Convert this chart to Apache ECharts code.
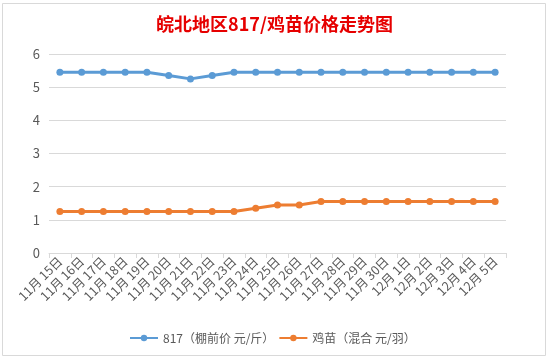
<!DOCTYPE html>
<html>
<head>
<meta charset="utf-8">
<script src="https://cdn.jsdelivr.net/npm/echarts@6/dist/echarts.min.js"></script>
<style>
html,body{margin:0;padding:0;background:#fff;}
#c{width:549px;height:358px;}
</style>
</head>
<body>
<div id="c"></div>
<script>
var titleText = '皖北地区817/鸡苗价格走势图';
var categories = ['11月 15日','11月 16日','11月 17日','11月 18日','11月 19日','11月 20日','11月 21日','11月 22日','11月 23日','11月 24日','11月 25日','11月 26日','11月 27日','11月 28日','11月 29日','11月 30日','12月 1日','12月 2日','12月 3日','12月 4日','12月 5日'];
var seriesNames = ['817（棚前价 元/斤）','鸡苗（混合 元/羽）'];
var price817 = [5.45,5.45,5.45,5.45,5.45,5.35,5.25,5.35,5.45,5.45,5.45,5.45,5.45,5.45,5.45,5.45,5.45,5.45,5.45,5.45,5.45];
var priceChick = [1.25,1.25,1.25,1.25,1.25,1.25,1.25,1.25,1.25,1.35,1.45,1.45,1.55,1.55,1.55,1.55,1.55,1.55,1.55,1.55,1.55];
var yMin = 0, yMax = 6, yStep = 1;

var font = '"Noto Sans CJK SC", "Microsoft YaHei", sans-serif';
var chart = echarts.init(document.getElementById('c'));
chart.setOption({
  animation: false,
  backgroundColor: '#fff',
  title: {
    text: titleText, left: 'center', top: 10,
    textStyle: {color: '#e60000', fontSize: 18, fontWeight: 'bold', fontFamily: font}
  },
  graphic: [{
    type: 'rect', shape: {x: 2.5, y: 3.5, width: 543, height: 352},
    style: {fill: 'none', stroke: '#d9d9d9', lineWidth: 1}, silent: true
  }],
  legend: {
    top: 327, left: 124, itemWidth: 28, itemHeight: 8, itemGap: 4,
    textStyle: {color: '#595959', fontSize: 12, fontFamily: font},
    data: seriesNames
  },
  grid: {left: 49, right: 43, top: 54, bottom: 105},
  xAxis: {
    type: 'category', data: categories, boundaryGap: true,
    axisLine: {lineStyle: {color: '#d9d9d9'}},
    axisTick: {show: true, length: 5, lineStyle: {color: '#d9d9d9'}},
    axisLabel: {rotate: 45, color: '#595959', fontSize: 12.5, fontFamily: font, margin: 6, interval: 0}
  },
  yAxis: {
    type: 'value', min: yMin, max: yMax, interval: yStep,
    axisLine: {show: false}, axisTick: {show: false},
    splitLine: {lineStyle: {color: '#d9d9d9'}},
    axisLabel: {color: '#595959', fontSize: 13, fontFamily: font, margin: 9}
  },
  series: [{
    name: seriesNames[0], type: 'line', data: price817,
    symbol: 'circle', symbolSize: 7,
    lineStyle: {width: 3, color: '#5b9bd5'}, itemStyle: {color: '#5b9bd5'}
  }, {
    name: seriesNames[1], type: 'line', data: priceChick,
    symbol: 'circle', symbolSize: 7,
    lineStyle: {width: 3, color: '#ed7d31'}, itemStyle: {color: '#ed7d31'}
  }]
});
</script>
</body>
</html>
